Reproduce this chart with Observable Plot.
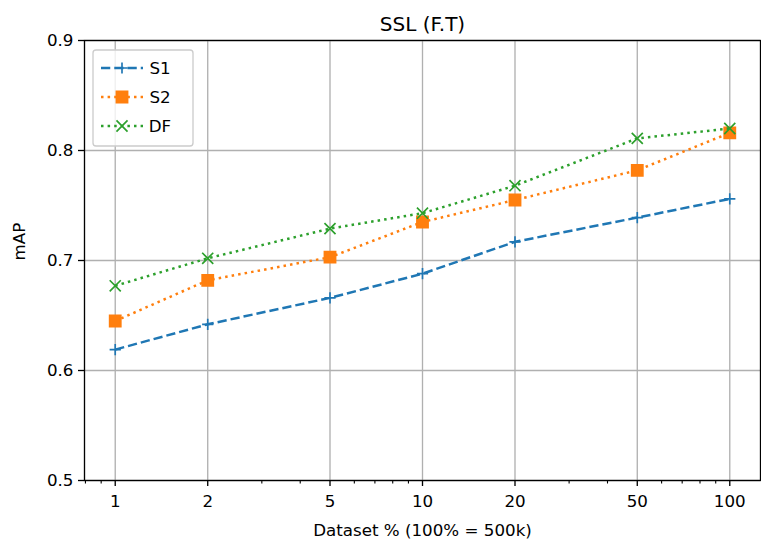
<!DOCTYPE html>
<html><head><meta charset="utf-8">
<script src="https://cdn.jsdelivr.net/npm/d3@7"></script>
<script src="https://cdn.jsdelivr.net/npm/@observablehq/plot@0.6"></script>
<style>body{margin:0;background:#fff}</style>
</head><body><div id="chart"></div>
<script>
const pct = [1, 2, 5, 10, 20, 50, 100];
const s1 = [0.619, 0.642, 0.666, 0.688, 0.717, 0.739, 0.756];
const s2 = [0.645, 0.682, 0.703, 0.735, 0.755, 0.782, 0.816];
const dfv = [0.677, 0.702, 0.729, 0.743, 0.768, 0.811, 0.820];
const seriesNames = ["S1", "S2", "DF"];
const seriesValues = [s1, s2, dfv];
const colors = ["#1f77b4", "#ff7f0e", "#2ca02c"];
const dashes = ["9.25,4", "2.5,4.1", "2.5,4.1"];
const symbols = ["plus", "square", "times"];
const symbolR = [3.7, 6.3, 5.1];
const xTicks = [1, 2, 5, 10, 20, 50, 100];
const xMinor = [0.8, 0.9, 3, 4, 6, 7, 8, 9, 30, 40, 60, 70, 80, 90];
const yTicks = [0.5, 0.6, 0.7, 0.8, 0.9];
const title = "SSL (F.T)";
const xLabel = "Dataset % (100% = 500k)";
const yLabel = "mAP";

const data = seriesNames.flatMap((s, i) => pct.map((p, j) => ({series: s, x: p, y: seriesValues[i][j]})));

const marks = [
  Plot.gridX(xTicks, {stroke: "#b0b0b0", strokeOpacity: 1, strokeWidth: 1.33}),
  Plot.gridY(yTicks, {stroke: "#b0b0b0", strokeOpacity: 1, strokeWidth: 1.33}),
  Plot.axisX(xMinor, {tickSize: 3.5, text: null, label: null, strokeWidth: 1.1}),
  Plot.axisX(xTicks, {tickSize: 6, text: null, label: null, strokeWidth: 1.33}),
  Plot.text(xTicks, {x: d => d, frameAnchor: "bottom", lineAnchor: "top", dy: 15, text: d => String(d)}),
  Plot.axisY(yTicks, {tickSize: 6, tickPadding: 5, tickFormat: d3.format(".1f"), label: null, strokeWidth: 1.33})
];

seriesNames.forEach((s, i) => {
  const d = data.filter(r => r.series === s);
  marks.push(Plot.line(d, {x: "x", y: "y", stroke: colors[i], strokeWidth: 2.5, strokeDasharray: dashes[i], strokeLinecap: "butt"}));
  marks.push(Plot.dot(d, {x: "x", y: "y", symbol: () => symbols[i], r: symbolR[i],
    fill: symbols[i] === "square" ? colors[i] : "none", stroke: colors[i], strokeWidth: 1.67}));
});
marks.push(Plot.frame({stroke: "black", strokeWidth: 1.33}));
marks.push(Plot.text([title], {frameAnchor: "top", lineAnchor: "bottom", dy: -10, fontSize: 20}));
marks.push(Plot.text([xLabel], {frameAnchor: "bottom", lineAnchor: "top", dy: 44}));
marks.push(Plot.text([yLabel], {frameAnchor: "left", rotate: -90, dx: -65}));

const chart = Plot.plot({
  width: 761, height: 543,
  marginLeft: 84, marginRight: 1, marginTop: 40, marginBottom: 63,
  style: {fontFamily: "DejaVu Sans", fontSize: "16.7px", color: "black", background: "white"},
  x: {type: "log", domain: [Math.pow(10, -0.1), Math.pow(10, 2.1)], axis: null},
  y: {domain: [0.5, 0.9], axis: null},
  symbol: {type: "identity"},
  marks
});
document.getElementById("chart").append(chart);

// legend
const svg = d3.select(chart);
const lg = svg.append("g").attr("font-family", "DejaVu Sans").attr("font-size", "16.7px");
lg.append("rect").attr("x", 93).attr("y", 50).attr("width", 100).attr("height", 96)
  .attr("rx", 3).attr("fill", "white").attr("fill-opacity", 0.8).attr("stroke", "#cccccc").attr("stroke-width", 1.33);
const symMap = {plus: d3.symbolPlus, square: d3.symbolSquare, times: d3.symbolTimes};
seriesNames.forEach((s, i) => {
  const yy = 68 + i * 29;
  lg.append("line").attr("x1", 101).attr("x2", 143).attr("y1", yy).attr("y2", yy)
    .attr("stroke", colors[i]).attr("stroke-width", 2.5).attr("stroke-dasharray", dashes[i]);
  lg.append("path").attr("transform", `translate(122,${yy})`)
    .attr("d", d3.symbol(symMap[symbols[i]], symbolR[i] * symbolR[i] * Math.PI)())
    .attr("fill", symbols[i] === "square" ? colors[i] : "none").attr("stroke", colors[i]).attr("stroke-width", 1.67);
  lg.append("text").attr("x", 160).attr("y", yy).attr("dy", "0.35em").text(s);
});
</script></body></html>
